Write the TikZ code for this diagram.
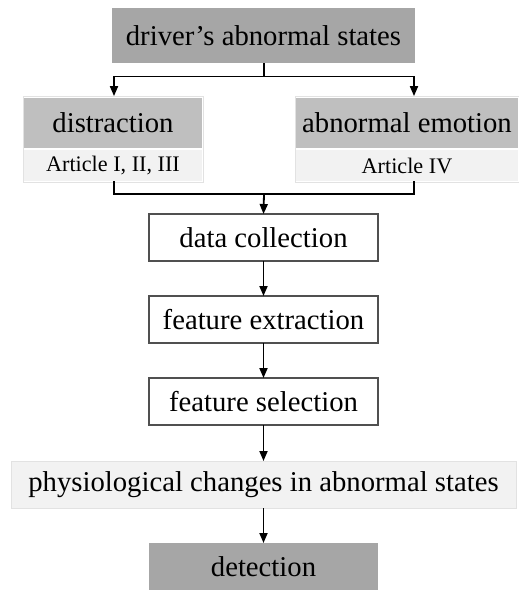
\documentclass[tikz,border=0pt]{standalone}
\usepackage{fontspec}
\setmainfont{Liberation Serif}
\usetikzlibrary{arrows.meta}
\definecolor{darkfill}{HTML}{A6A6A6}
\definecolor{midfill}{HTML}{BFBFBF}
\definecolor{lightfill}{HTML}{F2F2F2}
\definecolor{faintline}{HTML}{E2E2E2}
\definecolor{boxline}{HTML}{505050}
\begin{document}
\begin{tikzpicture}[x=1pt,y=-1pt,
  base/.style={rectangle, inner sep=0pt, outer sep=0pt, align=center,
    font=\fontsize{28.7}{34}\selectfont},
  darkbox/.style={base, fill=darkfill},
  headbox/.style={base, fill=midfill},
  subbox/.style={base, fill=lightfill, font=\fontsize{22.2}{26}\selectfont},
  framebox/.style={rectangle, inner sep=0pt, draw=faintline, line width=0.8pt},
  stepbox/.style={base, draw=boxline, line width=1.2pt, fill=white},
  widebox/.style={base, fill=lightfill, draw=faintline, line width=0.9pt},
  conn/.style={line width=1.8pt, black},
  arr/.style={conn, -{Triangle[length=10pt,width=8pt]}}
]
\useasboundingbox (0,0) rectangle (519,590);

% top level
\node[darkbox, minimum width=303, minimum height=55] (top) at (263.5,35.5) {driver’s abnormal states};

% the two kinds of abnormal state, each with its articles
\node[framebox, minimum width=180, minimum height=86] (distframe) at (113,139.5) {};
\node[headbox, minimum width=178, minimum height=50] (dist) at (113,123) {distraction};
\node[subbox, minimum width=178, minimum height=31] (distsub) at (113,165.5) {Article I, II, III};

\node[framebox, minimum width=226, minimum height=86] (emoframe) at (408,139.5) {};
\node[headbox, minimum width=222, minimum height=50] (emo) at (407,123) {abnormal emotion};
\node[subbox, minimum width=222, minimum height=31] (emosub) at (407,165.5) {Article IV};

% processing chain
\node[stepbox, minimum width=229, minimum height=47] (dc) at (263.5,237.5) {data collection};
\node[stepbox, minimum width=229, minimum height=47] (fe) at (263.5,319.5) {feature extraction};
\node[stepbox, minimum width=229, minimum height=47] (fs) at (263.5,401.5) {feature selection};
\node[widebox, minimum width=505, minimum height=47] (phys) at (263.5,484.5) {physiological changes in abnormal states};
\node[darkbox, minimum width=229, minimum height=48] (det) at (263.5,567) {detection};

% split from the top box
\coordinate (jt) at (264,76.5);
\draw[conn] (top.south -| jt) -- (jt);
\draw[arr] (jt) -| ([xshift=1]distframe.north);
\draw[arr] (jt) -| ([xshift=6]emoframe.north);

% merge into data collection
\coordinate (jb) at (264,194);
\draw[conn] ([xshift=1]distsub.south) |- (jb);
\draw[conn] ([xshift=7]emosub.south) |- (jb);
\draw[arr] (jb) -- (dc.north);

% chain arrows
\draw[arr] (dc.south) -- (fe.north);
\draw[arr] (fe.south) -- (fs.north);
\draw[arr] (fs.south) -- (phys.north);
\draw[arr] (phys.south) -- (det.north);
\end{tikzpicture}
\end{document}
